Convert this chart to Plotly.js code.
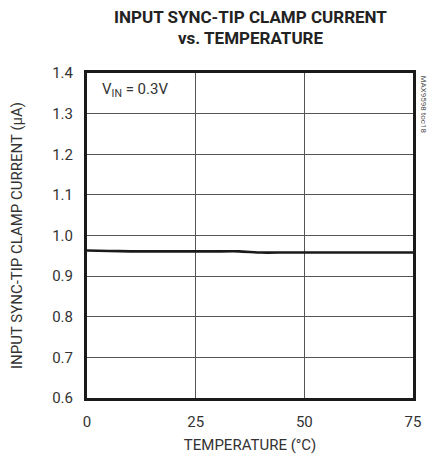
<!DOCTYPE html>
<html>
<head>
<meta charset="utf-8">
<script src="https://cdn.plot.ly/plotly-3.0.1.min.js"></script>
<style>
  html, body { margin: 0; padding: 0; background: #fff; }
  #chart { width: 433px; height: 454px; }
</style>
</head>
<body>
<div id="chart"></div>
<script>
// Clamp current measured across temperature, VIN = 0.3V
const temperatureC = [0, 5, 10, 15, 20, 25, 30, 35, 40, 45, 50, 55, 60, 65, 70, 75];
const clampCurrentUA = [0.963, 0.962, 0.961, 0.961, 0.961, 0.961, 0.961, 0.961, 0.958, 0.958, 0.958, 0.958, 0.958, 0.958, 0.958, 0.958];

const xTicks = [0, 25, 50, 75];
const yTicks = [0.6, 0.7, 0.8, 0.9, 1.0, 1.1, 1.2, 1.3, 1.4];
const yTickText = ['0.6', '0.7', '0.8', '0.9', '1.0', '1.1', '1.2', '1.3', '1.4'];

const condensed = '"Liberation Sans Narrow", "Roboto", Arial, sans-serif';

const trace = {
  x: temperatureC,
  y: clampCurrentUA,
  type: 'scatter',
  mode: 'lines',
  line: { color: '#1a1a1a', width: 2.6, shape: 'spline', smoothing: 0.4 },
  hoverinfo: 'skip'
};

const layout = {
  width: 433,
  height: 454,
  margin: { l: 87, r: 20, t: 73, b: 56 },
  paper_bgcolor: '#fff',
  plot_bgcolor: '#fff',
  showlegend: false,
  font: { family: condensed, color: '#333', size: 14 },
  xaxis: {
    range: [0, 75],
    tickvals: xTicks,
    ticktext: xTicks.map(String),
    ticks: '',
    ticklabelstandoff: 8,
    showgrid: true,
    gridcolor: '#555',
    gridwidth: 1,
    zeroline: false,
    showline: true,
    linecolor: '#1a1a1a',
    linewidth: 3,
    mirror: true,
    tickfont: { family: condensed, size: 15, color: '#333' },
    title: { text: 'TEMPERATURE (°C)', font: { family: condensed, size: 15, color: '#333' }, standoff: 10 }
  },
  yaxis: {
    range: [0.6, 1.4],
    tickvals: yTicks,
    ticktext: yTickText,
    ticks: '',
    ticklabelstandoff: 8,
    showgrid: true,
    gridcolor: '#555',
    gridwidth: 1,
    zeroline: false,
    showline: true,
    linecolor: '#1a1a1a',
    linewidth: 3,
    mirror: true,
    tickfont: { family: condensed, size: 15, color: '#333' },
    title: { text: 'INPUT SYNC-TIP CLAMP CURRENT (µA)', font: { family: condensed, size: 15, color: '#333' }, standoff: 26 }
  },
  annotations: [
    {
      text: '<b>INPUT SYNC-TIP CLAMP CURRENT</b>',
      xref: 'paper', yref: 'paper',
      x: 0.5, y: 1, xanchor: 'center', yanchor: 'middle',
      yshift: 56,
      showarrow: false,
      font: { family: condensed, size: 17, color: '#222' }
    },
    {
      text: '<b>vs. TEMPERATURE</b>',
      xref: 'paper', yref: 'paper',
      x: 0.5, y: 1, xanchor: 'center', yanchor: 'middle',
      yshift: 35,
      showarrow: false,
      font: { family: condensed, size: 17, color: '#222' }
    },
    {
      text: 'V<sub>IN</sub> = 0.3V',
      xref: 'paper', yref: 'paper',
      x: 0.04, y: 0.985, xanchor: 'left', yanchor: 'top',
      showarrow: false,
      font: { family: condensed, size: 15, color: '#333' }
    },
    {
      text: 'MAX9598 toc18',
      xref: 'paper', yref: 'paper',
      x: 1.0, y: 1.0, xanchor: 'left', yanchor: 'top',
      xshift: 4,
      textangle: 90,
      showarrow: false,
      font: { family: condensed, size: 8, color: '#555' }
    }
  ]
};

Plotly.newPlot('chart', [trace], layout, { staticPlot: true, displayModeBar: false });
</script>
</body>
</html>
